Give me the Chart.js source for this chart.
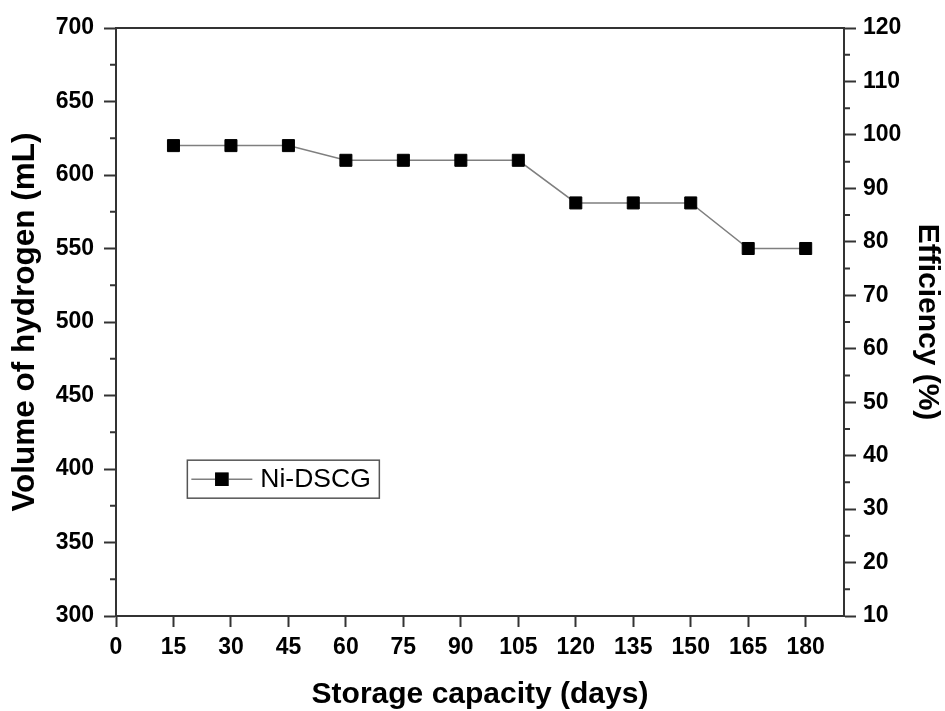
<!DOCTYPE html>
<html><head><meta charset="utf-8">
<script src="https://cdn.jsdelivr.net/npm/chart.js@4.4.0/dist/chart.umd.min.js"></script>
<style>html,body{margin:0;padding:0;background:#fff}#wrap{width:945px;height:711px}</style>
</head><body><div id="wrap"><canvas id="c" width="945" height="711"></canvas></div>
<script>
const days = [15, 30, 45, 60, 75, 90, 105, 120, 135, 150, 165, 180];
const volume = [620, 620, 620, 610, 610, 610, 610, 581, 581, 581, 550, 550];
const seriesName = 'Ni-DSCG';
const xTicks = [0, 15, 30, 45, 60, 75, 90, 105, 120, 135, 150, 165, 180];
const leftTicks = [300, 350, 400, 450, 500, 550, 600, 650, 700];
const leftMinor = [325, 375, 425, 475, 525, 575, 625, 675];
const rightTicks = [10, 20, 30, 40, 50, 60, 70, 80, 90, 100, 110, 120];
const rightMinor = [15, 25, 35, 45, 55, 65, 75, 85, 95, 105, 115];
const xTitle = 'Storage capacity (days)';
const leftTitle = 'Volume of hydrogen (mL)';
const rightTitle = 'Efficiency (%)';

const FAM = '"Liberation Sans", Arial, sans-serif';
const AX = '#333333';

const axisExtras = {
  id: 'axisExtras',
  afterDraw(chart) {
    const {ctx, chartArea: a, scales} = chart;
    ctx.save();
    ctx.strokeStyle = AX; ctx.lineWidth = 2;
    ctx.beginPath();
    ctx.moveTo(a.left - 1, a.top); ctx.lineTo(a.right + 1, a.top);
    leftMinor.forEach(v => { const y = scales.y.getPixelForValue(v); ctx.moveTo(a.left, y); ctx.lineTo(a.left - 6, y); });
    rightMinor.forEach(v => { const y = scales.y1.getPixelForValue(v); ctx.moveTo(a.right, y); ctx.lineTo(a.right + 6, y); });
    ctx.stroke();
    // legend
    const ds = chart.data.datasets[0];
    const bx = a.left + (a.right - a.left) * 0.098, by = a.top + (a.bottom - a.top) * 0.735;
    const bw = 192, bh = 38;
    ctx.strokeStyle = '#555'; ctx.lineWidth = 1.5;
    ctx.strokeRect(bx, by, bw, bh);
    const cy = by + bh / 2;
    ctx.strokeStyle = ds.borderColor; ctx.lineWidth = ds.borderWidth;
    ctx.beginPath(); ctx.moveTo(bx + 4, cy); ctx.lineTo(bx + 65, cy); ctx.stroke();
    Chart.helpers.drawPoint(ctx, {pointStyle: 'rect', radius: ds.pointRadius, borderWidth: ds.pointBorderWidth}, bx + 34.5, cy);
    ctx.fillStyle = ds.pointBackgroundColor; ctx.strokeStyle = ds.pointBorderColor;
    ctx.fill(); ctx.stroke();
    ctx.fillStyle = '#000'; ctx.font = '26.5px ' + FAM; ctx.textBaseline = 'middle'; ctx.textAlign = 'left';
    ctx.fillText(seriesName, bx + 73, cy + 1);
    ctx.restore();
  }
};

const tickFont = {family: FAM, size: 23, weight: 'bold'};
const titleFont = {family: FAM, size: 30, weight: 'bold'};

new Chart(document.getElementById('c'), {
  type: 'line',
  data: {
    datasets: [{
      label: seriesName,
      data: days.map((d, i) => ({x: d, y: volume[i]})),
      borderColor: '#7f7f7f',
      borderWidth: 1.5,
      pointStyle: 'rect',
      pointRadius: 8.5,
      pointBorderWidth: 1,
      pointBackgroundColor: '#000',
      pointBorderColor: '#000',
      tension: 0,
      yAxisID: 'y'
    }]
  },
  options: {
    responsive: false,
    animation: false,
    devicePixelRatio: 1,
    layout: {padding: {top: 28, left: 0, right: 0, bottom: 0}},
    plugins: {legend: {display: false}, tooltip: {enabled: false}},
    scales: {
      x: {
        type: 'linear', min: 0, max: 190,
        afterFit: s => { s.height = 95; },
        afterBuildTicks: s => { s.ticks = xTicks.map(v => ({value: v})); },
        grid: {drawOnChartArea: false, color: AX, tickColor: AX, tickWidth: 2, tickLength: 11},
        border: {display: true, color: AX, width: 2},
        ticks: {font: tickFont, color: '#000', padding: 7, maxRotation: 0, autoSkip: false},
        title: {display: true, text: xTitle, font: Object.assign({}, titleFont, {lineHeight: 1}), color: '#000', padding: {top: 0, bottom: 1}}
      },
      y: {
        type: 'linear', position: 'left', min: 300, max: 700,
        afterFit: s => { s.width = 116; },
        afterBuildTicks: s => { s.ticks = leftTicks.map(v => ({value: v})); },
        grid: {drawOnChartArea: false, color: AX, tickColor: AX, tickWidth: 2, tickLength: 12},
        border: {display: true, color: AX, width: 2},
        ticks: {font: tickFont, color: '#000', padding: 10, autoSkip: false},
        title: {display: true, text: leftTitle, font: Object.assign({}, titleFont, {size: 31.5}), color: '#000', padding: {top: 6, bottom: 0}}
      },
      y1: {
        type: 'linear', position: 'right', min: 10, max: 120,
        afterFit: s => { s.width = 101; },
        afterBuildTicks: s => { s.ticks = rightTicks.map(v => ({value: v})); },
        grid: {drawOnChartArea: false, color: AX, tickColor: AX, tickWidth: 2, tickLength: 12},
        border: {display: true, color: AX, width: 2},
        ticks: {font: tickFont, color: '#000', padding: 7, autoSkip: false},
        title: {display: true, text: rightTitle, font: titleFont, color: '#000', padding: {top: 0, bottom: 0}}
      }
    }
  },
  plugins: [axisExtras]
});
</script>
</body></html>
